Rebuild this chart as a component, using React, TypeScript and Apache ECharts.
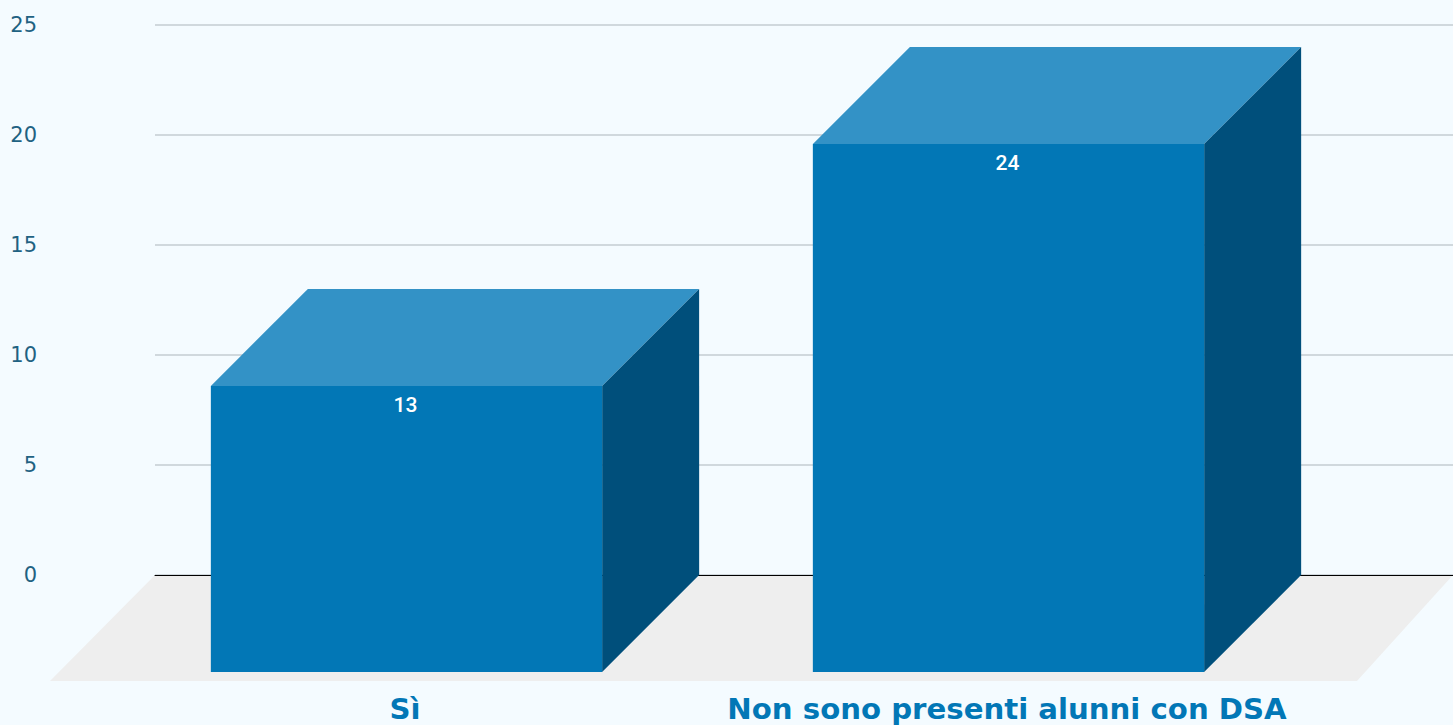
import React, { useEffect, useRef } from "react";
import * as echarts from "echarts";

const categories = ["Sì", "Non sono presenti alunni con DSA"];
const values = [13, 24];
const yTicks = [0, 5, 10, 15, 20, 25];

const W = 1453;
const H = 725;
const DEPTH = 97;
const BAR_RATIO = 0.65;

export default function App() {
  const ref = useRef<HTMLDivElement>(null);
  useEffect(() => {
    document.body.style.margin = "0";
    document.body.style.background = "#f4fbff";
    const chart = echarts.init(ref.current!, undefined, { renderer: "svg" });
    const yMax = yTicks[yTicks.length - 1];
    chart.setOption({
      animation: false,
      backgroundColor: "#f4fbff",
      grid: [
        { left: 105.5, width: 1204, top: 122, height: 550 },
        { left: 155, right: 0, top: 25, height: 550 },
      ],
      xAxis: [
        {
          type: "category",
          gridIndex: 0,
          data: categories,
          axisLine: { show: false },
          axisTick: { show: false },
          axisLabel: {
            margin: 22,
            interval: 0,
            padding: [0, 3, 0, 0],
            fontFamily: "DejaVu Sans",
            fontWeight: "bold",
            fontSize: 29.2,
            color: "#0277b6",
          },
        },
        {
          type: "category",
          gridIndex: 1,
          data: categories,
          axisLine: { show: true, onZero: true, lineStyle: { color: "#000", width: 1 } },
          axisTick: { show: false },
          axisLabel: { show: false },
          z: 3,
        },
      ],
      yAxis: [
        {
          type: "value",
          gridIndex: 0,
          min: 0,
          max: yMax,
          interval: 5,
          axisLine: { show: false },
          axisTick: { show: false },
          axisLabel: { show: false },
          splitLine: { show: false },
        },
        {
          type: "value",
          gridIndex: 1,
          min: 0,
          max: yMax,
          interval: 5,
          axisLine: { show: false },
          axisTick: { show: false },
          axisLabel: {
            margin: 118,
            align: "right",
            fontFamily: "DejaVu Sans",
            fontSize: 21,
            color: "#1f6282",
          },
          splitLine: { show: true, lineStyle: { color: "#c4ccd2", width: 1.5 } },
        },
      ],
      graphic: [
        {
          type: "polygon",
          z: 0,
          shape: {
            points: [
              [155, 575],
              [W, 575],
              [1357, 681],
              [50, 681],
            ],
          },
          style: { fill: "#eeeeee" },
        },
      ],
      series: [
        {
          type: "custom",
          xAxisIndex: 0,
          yAxisIndex: 0,
          z: 5,
          data: categories.map((_, i) => [i, values[i]]),
          encode: { x: 0, y: 1 },
          renderItem: (_p: any, api: any) => {
            const i = api.value(0);
            const v = api.value(1);
            const top = api.coord([i, v]);
            const base = api.coord([i, 0]);
            const w = api.size([1, 0])[0] * BAR_RATIO;
            const l = top[0] - w / 2;
            const r = top[0] + w / 2;
            const poly = (pts: number[][], fill: string) => ({
              type: "polygon",
              shape: { points: pts },
              style: { fill },
            });
            return {
              type: "group",
              children: [
                poly(
                  [
                    [l, top[1]],
                    [r, top[1]],
                    [r + DEPTH, top[1] - DEPTH],
                    [l + DEPTH, top[1] - DEPTH],
                  ],
                  "#3392c6"
                ),
                poly(
                  [
                    [r, top[1]],
                    [r + DEPTH, top[1] - DEPTH],
                    [r + DEPTH, base[1] - DEPTH],
                    [r, base[1]],
                  ],
                  "#004f7b"
                ),
                poly(
                  [
                    [l, top[1]],
                    [r, top[1]],
                    [r, base[1]],
                    [l, base[1]],
                  ],
                  "#0277b6"
                ),
                {
                  type: "text",
                  style: {
                    x: top[0] - 1,
                    y: top[1] + 19,
                    text: String(v),
                    fill: "#ffffff",
                    align: "center",
                    verticalAlign: "middle",
                    fontFamily: "Roboto",
                    fontWeight: 500,
                    fontSize: 21,
                  },
                },
              ],
            };
          },
        },
      ],
    });
    return () => chart.dispose();
  }, []);
  return <div ref={ref} style={{ width: W, height: H, position: "absolute", left: 0, top: 0 }} />;
}
